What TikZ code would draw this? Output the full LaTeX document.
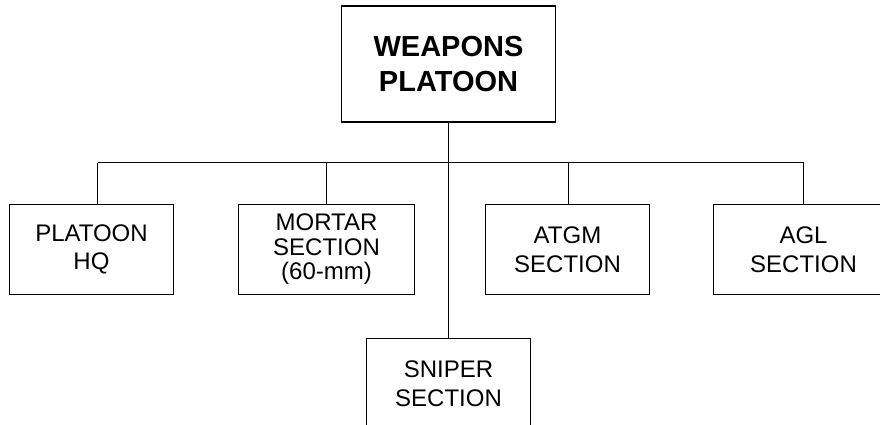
\documentclass[tikz,border=0pt]{standalone}
\usepackage{fontspec}
\setmainfont{Liberation Sans}
\begin{document}
\begin{tikzpicture}[x=1pt,y=-1pt,
  unitbox/.style={draw, line width=1.5pt, rectangle, inner sep=0pt, minimum width=164pt, minimum height=90pt, align=center, font=\fontsize{24}{28.5}\selectfont},
  conn/.style={line width=1.5pt}]
\useasboundingbox (0,0) rectangle (880,425);
\clip (0,0) rectangle (880,425);
\fill[white] (0,0) rectangle (880,425);
\node[unitbox, minimum width=214pt, minimum height=116pt, font=\fontsize{29}{35}\selectfont\bfseries] (top) at (448.5,64) {WEAPONS\\PLATOON};
\node[unitbox] (hq) at (91.5,249.5) {PLATOON\\HQ};
\node[unitbox, minimum width=176pt, font=\fontsize{24}{24.5}\selectfont] (mortar) at (326.5,249.5) {MORTAR\\SECTION\\(60-mm)};
\node[unitbox] (atgm) at (567.5,249.5) {ATGM\\SECTION};
\node[unitbox, minimum width=180pt] (agl) at (803.5,249.5) {AGL\\SECTION};
\node[unitbox] (sniper) at (448.5,383.5) {SNIPER\\SECTION};
\coordinate (b1) at (97.5,162.5);
\coordinate (b2) at (326.5,162.5);
\coordinate (b3) at (568.5,162.5);
\coordinate (b4) at (803.5,162.5);
\draw[conn] (b1) -- (b4);
\draw[conn] (top.south) -- (sniper.north);
\draw[conn] (b1) -- (b1 |- hq.north);
\draw[conn] (b2) -- (b2 |- mortar.north);
\draw[conn] (b3) -- (b3 |- atgm.north);
\draw[conn] (b4) -- (b4 |- agl.north);
\end{tikzpicture}
\end{document}
